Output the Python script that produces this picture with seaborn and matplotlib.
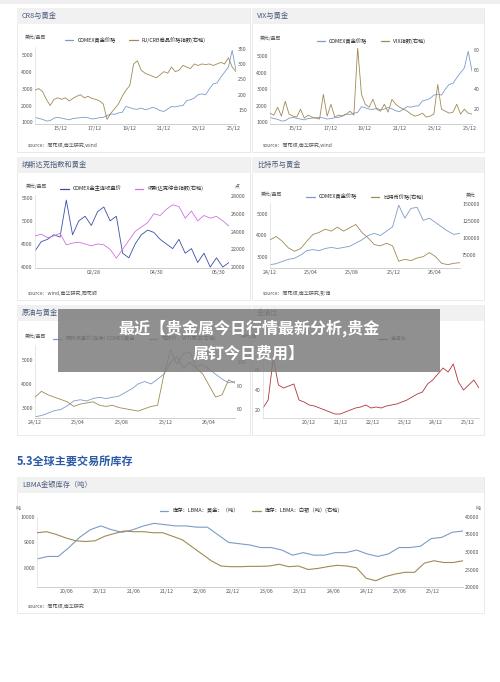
import numpy as np
import pandas as pd
import seaborn as sns
import matplotlib.pyplot as plt
from matplotlib.patches import Rectangle
from matplotlib.lines import Line2D

sns.set_theme(style="white")
plt.rcParams['font.family'] = ['Noto Sans CJK SC', 'DejaVu Sans']

## data
gold_long = [1300, 1230, 1180, 1080, 1100, 1250, 1300, 1250, 1200, 1150, 1230, 1250, 1280, 1300, 1270, 1200,
             1230, 1280, 1300, 1400, 1500, 1480, 1560, 1600, 1950, 1880, 1800, 1780, 1850, 1760, 1800, 1900,
             1820, 1700, 1650, 1800, 1950, 1920, 1980, 2000, 2300, 2350, 2450, 2650, 2700, 2650, 3000, 3300,
             3350, 3700, 4000, 4300, 5300, 4100]
crb = [215, 220, 210, 185, 165, 185, 190, 185, 190, 180, 188, 195, 200, 190, 195, 188, 185, 180, 170, 120,
       140, 155, 170, 195, 215, 230, 300, 310, 280, 270, 265, 260, 255, 265, 275, 270, 290, 275, 280, 295,
       290, 285, 300, 295, 300, 298, 300, 295, 300, 305, 300, 320, 290, 275]
vix = [16, 14, 22, 13, 28, 15, 13, 12, 20, 11, 14, 12, 11, 10, 35, 13, 25, 12, 14, 13, 15, 18, 14, 82,
       35, 25, 22, 30, 20, 18, 25, 17, 30, 25, 22, 20, 18, 15, 13, 14, 16, 12, 13, 15, 45, 20, 18, 16,
       17, 25, 15, 20, 16, 15]

gold_main = [4350, 4550, 4600, 4700, 4650, 5450, 4700, 5000, 5100, 4900, 5200, 5300, 5000, 5100, 4300, 4200,
             4500, 4700, 4800, 4750, 4600, 4500, 4400, 4600, 4300, 4400, 4100, 4300, 4000, 4200, 4000, 4100]
nasdaq = [23500, 23700, 23300, 23500, 23800, 22500, 22700, 22800, 22600, 22400, 22600, 22500, 22000, 21000,
          22000, 23000, 24000, 24500, 25000, 26000, 25800, 26500, 27000, 26800, 25500, 26300, 25200, 25800,
          25500, 25700, 25200, 24600]

gold_short = [2650, 2700, 2800, 2900, 2950, 3100, 3300, 3350, 3300, 3400, 3450, 3400, 3450, 3500, 3650, 3800,
              4000, 4100, 4000, 4200, 4400, 5400, 4800, 5250, 5300, 4700, 4800, 4600, 4400, 4200, 4050, 4100]
btc = [97000, 102000, 95000, 85000, 80000, 84000, 95000, 105000, 108000, 113000, 110000, 116000, 110000,
       115000, 120000, 108000, 100000, 90000, 88000, 92000, 88000, 65000, 68000, 66000, 70000, 72000, 78000,
       72000, 62000, 60000, 62000, 63000]
wti = [70, 75, 72, 70, 68, 66, 62, 64, 65, 66, 63, 62, 63, 61, 60, 59, 58, 60, 62, 63, 90, 100, 105, 95,
       100, 95, 90, 80, 70, 72, 85, 82]
gold_oil = [22, 30, 72, 45, 42, 44, 46, 30, 28, 25, 24, 22, 20, 18, 16, 16, 18, 20, 22, 23, 25, 22, 23, 22,
            24, 25, 26, 28, 30, 33, 36, 38, 46, 50, 56, 62, 58, 66, 48, 40, 45, 50, 42]

lbma_gold = [8350, 8450, 8450, 8800, 9200, 9500, 9650, 9500, 9400, 9500, 9650, 9750, 9700, 9650, 9650, 9600,
             9600, 9300, 9000, 8950, 8900, 8800, 8800, 8700, 8500, 8600, 8500, 8500, 8600, 8600, 8700, 8550,
             8450, 8550, 8800, 8800, 8850, 9150, 9200, 9400, 9450]
lbma_silver = [35500, 35800, 35000, 34000, 33200, 33000, 33200, 34500, 35300, 36000, 35800, 35800, 35500,
               35500, 34500, 33500, 31500, 29500, 27500, 26000, 25800, 25800, 25900, 25900, 26000, 26500,
               25800, 26000, 25000, 25300, 25800, 26200, 26000, 25500, 22500, 21800, 23000, 23700, 24200,
               24200, 26800, 27500, 27000, 27000, 27500]

BLUE = "#7b9cc8"
BROWN = "#a08a55"
TXT = "#555555"

fig = plt.figure(figsize=(5, 6.82), dpi=100)
fig.patch.set_facecolor("white")


def box(x, y, w, h):
    return [x / 500, 1 - (y + h) / 682, w / 500, h / 682]


def card(x, y, w, h, title, source=""):
    fig.patches.append(Rectangle((x / 500, 1 - (y + h) / 682), w / 500, h / 682, transform=fig.transFigure,
                                 facecolor="white", edgecolor="#e6e6e6", lw=0.6, zorder=-5))
    fig.patches.append(Rectangle((x / 500, 1 - (y + 16) / 682), w / 500, 16 / 682, transform=fig.transFigure,
                                 facecolor="#f1f1f1", edgecolor="none", zorder=-4))
    fig.text((x + 5) / 500, 1 - (y + 8) / 682, title, fontsize=5.2, color="#4a5b7c", va="center")
    if source:
        fig.text((x + 11) / 500, 1 - (y + h - 7) / 682, "source：" + source, fontsize=3.6, color=TXT,
                 style="italic", va="center")


def panel(rect, x1, y1, x2, y2, c1, c2, lab1, lab2, ylim1, yt1, ylim2, yt2, xt, xtl, unit="美元/盎司",
          unit2=None, lw=0.6, leg_x=0.5):
    ax = fig.add_axes(rect)
    sns.lineplot(x=x1, y=y1, ax=ax, color=c1, lw=lw)
    ax.set_ylim(*ylim1)
    ax.set_yticks(yt1)
    ax.set_xticks(xt)
    ax.set_xticklabels(xtl)
    ax.set_xlim(min(x1[0], x2[0] if x2 is not None else x1[0]), max(x1[-1], x2[-1] if x2 is not None else x1[-1]))
    handles = [Line2D([], [], color=c1, lw=0.9)]
    labels = [lab1]
    ax2 = None
    if x2 is not None:
        ax2 = ax.twinx()
        sns.lineplot(x=x2, y=y2, ax=ax2, color=c2, lw=lw)
        ax2.set_ylim(*ylim2)
        ax2.set_yticks(yt2)
        ax2.set_ylabel("")
        handles.append(Line2D([], [], color=c2, lw=0.9))
        labels.append(lab2)
    for a in [ax, ax2]:
        if a is None:
            continue
        a.set_facecolor("none")
        a.tick_params(labelsize=3.8, colors=TXT, length=0, pad=1.5)
        for s in a.spines.values():
            s.set_visible(False)
        a.spines["bottom"].set_visible(True)
        a.spines["bottom"].set_color("#cccccc")
        a.spines["bottom"].set_linewidth(0.5)
    ax.spines["left"].set_visible(True)
    ax.spines["left"].set_color("#dddddd")
    ax.spines["left"].set_linewidth(0.5)
    ax.set_ylabel("")
    if unit:
        ax.text(-0.05, 1.1, unit, transform=ax.transAxes, fontsize=3.5, color=TXT, ha="left")
    if unit2:
        ax.text(1.03, 1.1, unit2, transform=ax.transAxes, fontsize=3.5, color=TXT, ha="left")
    ax.legend(handles=handles, labels=labels, loc="lower center",
              bbox_to_anchor=(leg_x, 1.02), ncol=2, frameon=False, fontsize=3.8, handlelength=1.6,
              columnspacing=2.5, borderaxespad=0)
    return ax


t_long = np.linspace(2014.5, 2026.1, len(gold_long))
yr_ticks = [2015.95, 2017.95, 2019.95, 2021.95, 2023.95, 2025.95]
yr_lab = ["15/12", "17/12", "19/12", "21/12", "23/12", "25/12"]

card(17, 8, 233, 144, "CR8与黄金", "同花顺,南华研究,wind")
panel(box(35, 47, 201, 77), t_long, gold_long, t_long, crb, BLUE, BROWN, "COMEX黄金价格",
      "RJ/CRB商品价格指数(右轴)", (900, 5500), [1000, 2000, 3000, 4000, 5000], (105, 355),
      [150, 200, 250, 300, 350], yr_ticks, yr_lab)

card(252, 8, 232, 144, "VIX与黄金", "同花顺,南华研究,wind")
panel(box(270, 48, 202, 76), t_long, gold_long, t_long, vix, BLUE, BROWN, "COMEX黄金价格",
      "VIX指数(右轴)", (900, 5500), [1000, 2000, 3000, 4000, 5000], (5, 82),
      [20, 40, 60, 80], yr_ticks, yr_lab)

t_nq = np.linspace(0, 190, len(gold_main))
card(17, 157, 233, 143, "纳斯达克指数和黄金", "wind,南华研究,同花顺")
panel(box(35, 195, 194, 73), t_nq, gold_main, t_nq, nasdaq, "#3b4fa6", "#cf72e3", "COMEX金主连收盘价",
      "纳斯达克综合指数(右轴)", (3980, 5560), [4000, 4500, 5000, 5500], (19900, 28100),
      [20000, 22000, 24000, 26000, 28000], [58, 119, 180], ["02/28", "04/30", "06/30"], unit2="点")

t_sh = np.linspace(2024.92, 2026.45, len(gold_short))
sh_ticks = [2024.92, 2025.25, 2025.58, 2025.92, 2026.25]
sh_lab = ["24/12", "25/04", "25/08", "25/12", "26/04"]
card(252, 157, 232, 143, "比特币与黄金", "同花顺,南华研究,彭博")
panel(box(270, 203, 190, 65), t_sh, gold_short, t_sh, btc, BLUE, BROWN, "COMEX黄金价格",
      "比特币价格(右轴)", (2500, 5500), [3000, 4000, 5000], (55000, 152000),
      [75000, 100000, 125000, 150000], sh_ticks, sh_lab, unit2="美元")

card(17, 305, 233, 130, "原油与黄金")
panel(box(35, 345, 200, 73), t_sh, gold_short, t_sh, wti, BLUE, BROWN, "期货收盘价(连续):COMEX黄金",
      "现货价：WTI原油(右轴)", (2600, 5600), [3000, 4000, 5000], (52, 115),
      [60, 80, 100], sh_ticks, sh_lab, unit2="美元/桶")

t_go = np.linspace(2019.5, 2026.3, len(gold_oil))
card(252, 305, 232, 130, "金油比")
panel(box(263, 345, 216, 73), t_go, gold_oil, None, None, "#b0343a", None, "金油比", None,
      (12, 85), [20, 40, 60], None, None,
      [2020.95, 2021.95, 2022.95, 2023.95, 2024.95, 2025.95],
      ["20/12", "21/12", "22/12", "23/12", "24/12", "25/12"], unit="", leg_x=0.6)

fig.text(17 / 500, 1 - 462 / 682, "5.3全球主要交易所库存", fontsize=8, color="#2b5aa8", weight="bold",
         va="center")

t_gb = np.linspace(2020.0, 2026.4, len(lbma_gold))
t_sv = np.linspace(2020.0, 2026.4, len(lbma_silver))
card(17, 477, 467, 136, "LBMA金银库存（吨）", "同花顺,南华研究")
panel(box(37, 517, 426, 70), t_gb, lbma_gold, t_sv, lbma_silver, BLUE, BROWN, "库存：LBMA：黄金：（吨）",
      "库存：LBMA：白银（吨）(右轴)", (7250, 10000), [8000, 9000, 10000], (20000, 40000),
      [20000, 25000, 30000, 35000, 40000],
      [2020.45, 2020.95, 2021.45, 2021.95, 2022.45, 2022.95, 2023.45, 2023.95, 2024.45, 2024.95, 2025.45,
       2025.95],
      ["20/06", "20/12", "21/06", "21/12", "22/06", "22/12", "23/06", "23/12", "24/06", "24/12", "25/06",
       "25/12"], unit="吨", unit2="吨", lw=0.8)

# page top band and overlay banner
fig.patches.append(Rectangle((0, 1 - 4 / 682), 1, 4 / 682, transform=fig.transFigure,
                             facecolor="#eeeeee", edgecolor="none", zorder=5))
banner = Rectangle((58 / 500, 1 - 372 / 682), 382 / 500, 63 / 682, transform=fig.transFigure,
                   facecolor="#7d7d7d", alpha=0.85, edgecolor="none", zorder=10)
fig.patches.append(banner)
fig.text(249 / 500, 1 - 328 / 682, "最近【贵金属今日行情最新分析,贵金", fontsize=11.5,
         color="white", weight="bold", ha="center", va="center", zorder=11)
fig.text(249 / 500, 1 - 354 / 682, "属钉今日费用】", fontsize=11.5,
         color="white", weight="bold", ha="center", va="center", zorder=11)

fig.savefig("out.png", dpi=100)
